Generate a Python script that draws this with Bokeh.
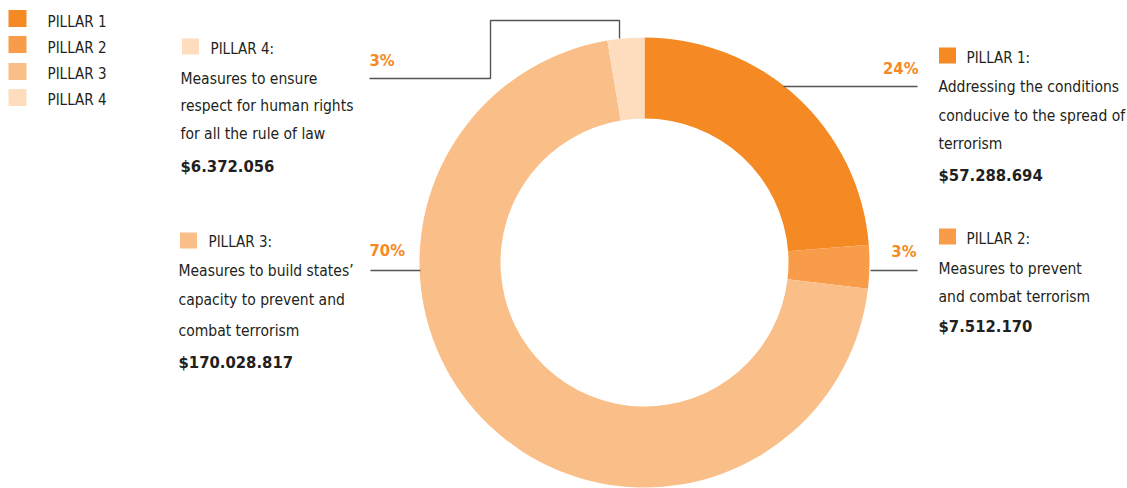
from bokeh.plotting import figure
from bokeh.models import Range1d, ColumnDataSource
from bokeh.core.properties import value
from bokeh.embed import file_html
from bokeh.resources import INLINE
import math

# ---------------- data ----------------
categories = ["PILLAR 1", "PILLAR 2", "PILLAR 3", "PILLAR 4"]
amounts = [57288694, 7512170, 170028817, 6372056]
descriptions = [
    ["Addressing the conditions", "conducive to the spread of", "terrorism"],
    ["Measures to prevent", "and combat terrorism"],
    ["Measures to build states\u2019", "capacity to prevent and", "combat terrorism"],
    ["Measures to ensure", "respect for human rights", "for all the rule of law"],
]
colors = ["#F58A24", "#F89C4A", "#FABF88", "#FDDDBD"]

total = sum(amounts)
shares = [a / total for a in amounts]
pct_labels = [f"{round(s * 100)}%" for s in shares]
amount_labels = ["$" + f"{a:,}".replace(",", ".") for a in amounts]

# ---------------- layout (image pixel coords -> data) ----------------
W, H = 1127, 488
TXT_SHIFT = 6  # baseline correction for text glyphs


def X(px):
    return px


def Y(py):
    return H - py


def YT(py):
    return H - (py - TXT_SHIFT)


FONT = value("DejaVu Sans Condensed")
TEXT = "#231F20"
ORANGE = "#F58A24"
LINE = "#555555"

p = figure(width=W, height=H, output_backend="svg", toolbar_location=None,
           x_range=Range1d(0, W), y_range=Range1d(0, H),
           x_axis_location=None, y_axis_location=None, min_border=0,
           outline_line_color=None, background_fill_color="white")
p.xgrid.visible = False
p.ygrid.visible = False

# donut
cx, cy, R_out, R_in = X(644), Y(262), 225, 144
starts, ends = [], []
acc = 0.0
for s in shares:
    starts.append(math.pi / 2 - acc * 2 * math.pi)
    acc += s
    ends.append(math.pi / 2 - acc * 2 * math.pi)
src = ColumnDataSource(dict(start=starts, end=ends, color=colors))
p.annular_wedge(x=cx, y=cy, inner_radius=R_in, outer_radius=R_out,
                start_angle="start", end_angle="end", direction="clock",
                color="color", line_color=None, source=src)

# leader lines
lines_x = [[783, 917], [870, 917], [370, 420], [369, 490, 490, 619, 619]]
lines_y = [[86, 86], [270, 270], [270, 270], [78, 78, 20, 20, 38]]
p.multi_line(xs=[[X(v) for v in xs] for xs in lines_x],
             ys=[[Y(v) for v in ys] for ys in lines_y],
             line_color=LINE, line_width=1.4)

# percent labels
pct_pos = [(918, 74, "right"), (916, 257, "right"), (369, 256, "left"), (369, 66, "left")]
for lab, (px, py, al) in zip(pct_labels, pct_pos):
    p.text(x=[X(px)], y=[YT(py)], text=[lab], text_font=FONT, text_font_size="16.5px",
           text_font_style="bold", text_color=ORANGE, text_align=al,
           text_baseline="alphabetic")

# top-left legend
leg_sq_y = [18, 44, 71, 97]
leg_base = [27, 53, 79, 105]
p.rect(x=[X(17)] * 4, y=[Y(v) for v in leg_sq_y], width=18, height=17,
       color=colors, line_color=None)
p.text(x=[X(47)] * 4, y=[YT(v) for v in leg_base], text=categories,
       text_font=FONT, text_font_size="15px", text_color=TEXT,
       text_baseline="alphabetic")

# annotation blocks: square pos, title pos, body x, body baselines, amount baseline
blocks = [
    dict(sq=(947, 55), title=(966, 63), bx=938, lines=[92, 121, 149], amt=181),
    dict(sq=(947, 236), title=(966, 244), bx=938, lines=[274, 302], amt=332),
    dict(sq=(188, 240), title=(208, 247), bx=178, lines=[276, 305, 336], amt=368),
    dict(sq=(190, 46), title=(210, 54), bx=180, lines=[84, 111, 139], amt=172),
]
for i, b in enumerate(blocks):
    p.rect(x=[X(b["sq"][0])], y=[Y(b["sq"][1])], width=17, height=16,
           color=colors[i], line_color=None)
    p.text(x=[X(b["title"][0])], y=[YT(b["title"][1])], text=[categories[i] + ":"],
           text_font=FONT, text_font_size="15px", text_color=TEXT,
           text_baseline="alphabetic")
    p.text(x=[X(b["bx"])] * len(descriptions[i]), y=[YT(v) for v in b["lines"]],
           text=descriptions[i], text_font=FONT, text_font_size="15.5px",
           text_color=TEXT, text_baseline="alphabetic")
    p.text(x=[X(b["bx"])], y=[YT(b["amt"])], text=[amount_labels[i]],
           text_font=FONT, text_font_size="16.5px", text_font_style="bold",
           text_color=TEXT, text_baseline="alphabetic")

open("out.html", "w").write(file_html(p, INLINE))
